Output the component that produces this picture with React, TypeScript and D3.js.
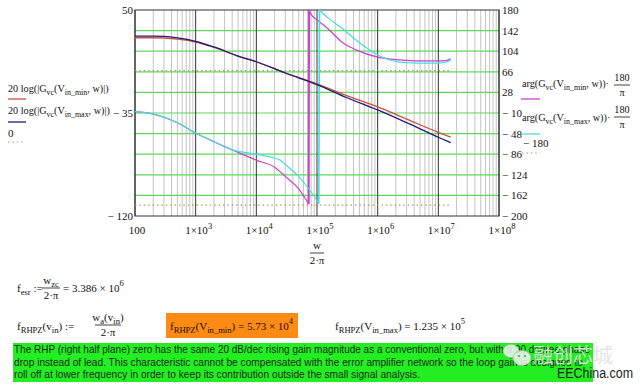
import React from "react";
import * as d3 from "d3";

// x axis decades (Hz) and labels
const decades = [1e2, 1e3, 1e4, 1e5, 1e6, 1e7, 1e8];
const decadeExp = ["", "3", "4", "5", "6", "7", "8"];

// left axis (dB) and right axis (deg)
const leftTicks = [50, -35, -120];
const leftTickLabels = ["50", "− 35", "− 120"];
const rightTicks = [180, 142, 104, 66, 28, -10, -48, -86, -124, -162, -200];
const rightTickLabels = ["180", "142", "104", "66", "28", "− 10", "− 48", "− 86", "− 124", "− 162", "− 200"];

// magnitude 20log|Gvc| in dB
const magFreq = [100, 200, 300, 500, 1e3, 2e3, 5e3, 1e4, 3e4, 1e5, 3e5, 1e6, 3e6, 1e7, 1.6e7];
const magVinMin = [27.1, 27.1, 26.9, 26.0, 23.6, 19.2, 12.0, 7.3, -1.8, -11.0, -20.5, -30.0, -40.0, -51.0, -55.0];
const magVinMax = [28.5, 28.5, 28.2, 27.0, 24.2, 19.5, 12.0, 7.3, -2.0, -11.5, -22.0, -32.5, -43.0, -55.0, -59.5];

// phase arg(Gvc) in degrees, two branches each (wraps at -180 -> 180)
const phMinFreqA = [100, 200, 500, 1e3, 2e3, 4e3, 1e4, 2e4, 3e4, 5e4, 7.3e4];
const phVinMinA = [-7.6, -12, -28, -47, -63, -78, -97, -110, -127, -150, -178];
const phMinFreqB = [7.4e4, 8e4, 1e5, 1.5e5, 2.7e5, 4.5e5, 1e6, 2.3e6, 5e6, 1e7, 1.4e7, 1.6e7];
const phVinMinB = [180, 172, 162, 146, 119, 106, 93, 88, 86, 86, 87, 90];
const phMaxFreqA = [100, 200, 500, 1e3, 2e3, 4e3, 1e4, 1.5e4, 2.5e4, 3e4, 5e4, 7.6e4, 1.07e5];
const phVinMaxA = [-7.6, -12, -28, -47, -63, -78, -86, -90, -97, -105, -127, -152, -177];
const phMaxFreqB = [1.1e5, 1.5e5, 2.4e5, 5.1e5, 1e6, 2.3e6, 5e6, 1e7, 1.35e7, 1.6e7];
const phVinMaxB = [180, 166, 149, 119, 97, 84, 82, 82, 84, 88];

const zeroLevel = 0;
const phaseLimit = -180;

const paragraph = [
  "The RHP (right half plane) zero has the same 20 dB/dec rising gain magnitude as a conventional zero, but with a 90 degree phase",
  "drop instead of lead. This characteristic cannot be compensated with the error amplifier network so the loop gain is designed to",
  "roll off at lower frequency in order to keep its contribution outside the small signal analysis.",
];

const SERIF = "'Liberation Serif', 'Times New Roman', serif";
const SANS = "'Liberation Sans', Arial, sans-serif";

const C_RED = "#d0503c";
const C_NAVY = "#1c1c7c";
const C_MAG = "#c844c8";
const C_CYAN = "#46dce6";
const C_DOT = "#c08a50";
const C_GREEN = "#5cd85c";

type Part = [string, number?]; // [text, baseline offset px]

function Rich({ x, y, parts, size = 11, anchor = "start", fill = "#111" }: any) {
  let cur = 0;
  return (
    <text x={x} y={y} fontSize={size} textAnchor={anchor} fontFamily={SERIF} fill={fill}>
      {parts.map(([t, off = 0]: Part, i: number) => {
        const dy = off - cur;
        cur = off;
        return (
          <tspan key={i} dy={dy} fontSize={off ? size * 0.78 : size}>
            {t}
          </tspan>
        );
      })}
    </text>
  );
}

function Frac({ cx, y, num, den, w, size = 11 }: any) {
  return (
    <g>
      <Rich x={cx} y={y - 4} parts={num} anchor="middle" size={size} />
      <line x1={cx - w / 2} x2={cx + w / 2} y1={y} y2={y} stroke="#111" strokeWidth={0.8} />
      <Rich x={cx} y={y + 11} parts={den} anchor="middle" size={size} />
    </g>
  );
}

const zip = (f: number[], v: number[]) => f.map((fi, i) => [fi, v[i]] as [number, number]);

export default function App() {
  const x = d3.scaleLog().domain([1e2, 1e8]).range([135, 499]);
  const yL = d3.scaleLinear().domain([-120, 50]).range([216, 10]);
  const yR = d3.scaleLinear().domain([-200, 180]).range([216, 10]);

  const minor = decades.slice(0, -1).flatMap((d) => d3.range(2, 10).map((k) => k * d));

  const magLine = d3
    .line<[number, number]>()
    .x((d) => x(d[0]))
    .y((d) => yL(d[1]))
    .curve(d3.curveMonotoneX);
  const phLine = d3
    .line<[number, number]>()
    .x((d) => x(d[0]))
    .y((d) => yR(d[1]))
    .curve(d3.curveMonotoneX);
  const jump = d3
    .line<[number, number]>()
    .x((d) => x(d[0]))
    .y((d) => yR(d[1]));

  const minA = zip(phMinFreqA, phVinMinA);
  const minB = zip(phMinFreqB, phVinMinB);
  const maxA = zip(phMaxFreqA, phVinMaxA);
  const maxB = zip(phMaxFreqB, phVinMaxB);

  const fStart = magFreq[0];
  const fEnd = magFreq[magFreq.length - 1];

  return (
    <svg width={640} height={386} style={{ position: "absolute", left: 0, top: 0, background: "#fff" }}>
      {/* minor vertical grid */}
      {minor.map((f) => (
        <line key={"m" + f} x1={x(f)} x2={x(f)} y1={yR(180)} y2={yR(-200)} stroke="#c4c4c4" strokeWidth={1} />
      ))}
      {/* horizontal green grid */}
      {rightTicks.slice(1, -1).map((t) => (
        <line key={"h" + t} x1={x(1e2)} x2={x(1e8)} y1={yR(t)} y2={yR(t)} stroke={C_GREEN} strokeWidth={1.2} />
      ))}
      {/* decade lines */}
      {decades.map((d) => (
        <line key={"d" + d} x1={x(d)} x2={x(d)} y1={yR(180)} y2={yR(-200)} stroke="#333" strokeWidth={1} />
      ))}
      <rect x={x(1e2)} y={yR(180)} width={x(1e8) - x(1e2)} height={yR(-200) - yR(180)} fill="none" stroke="#333" strokeWidth={1} />

      {/* reference dotted lines */}
      <line x1={x(fStart)} x2={x(fEnd)} y1={yL(zeroLevel)} y2={yL(zeroLevel)} stroke={C_DOT} strokeWidth={1.2} strokeDasharray="1.4,3" />
      <line x1={x(fStart)} x2={x(fEnd)} y1={yR(phaseLimit)} y2={yR(phaseLimit)} stroke={C_DOT} strokeWidth={1.2} strokeDasharray="1.4,3" />

      {/* phase traces */}
      <g fill="none" strokeWidth={1.2}>
        <path d={phLine(minA) || ""} stroke={C_MAG} />
        <path d={jump([minA[minA.length - 1], minB[0]]) || ""} stroke={C_MAG} strokeWidth={2} />
        <path d={phLine(minB) || ""} stroke={C_MAG} />
        <path d={phLine(maxA) || ""} stroke={C_CYAN} />
        <path d={jump([maxA[maxA.length - 1], maxB[0]]) || ""} stroke={C_CYAN} strokeWidth={1.6} />
        <path d={phLine(maxB) || ""} stroke={C_CYAN} />
      </g>
      {/* magnitude traces */}
      <g fill="none" strokeWidth={1.3}>
        <path d={magLine(zip(magFreq, magVinMin)) || ""} stroke={C_RED} />
        <path d={magLine(zip(magFreq, magVinMax)) || ""} stroke={C_NAVY} />
      </g>

      {/* left ticks */}
      {leftTicks.map((t, i) => (
        <text key={"lt" + t} x={133} y={yL(t) + 4} fontSize={11} textAnchor="end" fontFamily={SERIF} fill="#111">
          {leftTickLabels[i]}
        </text>
      ))}
      {/* right ticks */}
      {rightTicks.map((t, i) => (
        <text key={"rt" + t} x={502} y={yR(t) + 4} fontSize={11} fontFamily={SERIF} fill="#111">
          {rightTickLabels[i]}
        </text>
      ))}
      {/* x ticks */}
      {decades.map((d, i) => (
        <Rich
          key={"xt" + d}
          x={x(d) + (i === 0 ? 2 : 3)}
          y={234}
          anchor="middle"
          parts={i === 0 ? [["100"]] : [["1×10"], [decadeExp[i], -5]]}
        />
      ))}
      {/* x label */}
      <Frac cx={x(1e5)} y={253} w={14} num={[["w"]]} den={[["2·π"]]} />

      {/* left legend */}
      <Rich x={8} y={92} size={10.2} parts={[["20 log(|G"], ["vc", 3], ["(V"], ["in_min", 3], [", w)|)"]]} />
      <line x1={8} x2={26} y1={99} y2={99} stroke={C_RED} strokeWidth={1.3} />
      <Rich x={8} y={114} size={10.2} parts={[["20 log(|G"], ["vc", 3], ["(V"], ["in_max", 3], [", w)|)"]]} />
      <line x1={8} x2={26} y1={122} y2={122} stroke={C_NAVY} strokeWidth={1.3} />
      <text x={8} y={137} fontSize={11} fontFamily={SERIF} fill="#111">0</text>
      <line x1={8} x2={24} y1={142} y2={142} stroke={C_DOT} strokeWidth={1.2} strokeDasharray="1.4,3" />

      {/* right legend */}
      <Rich x={522} y={87} size={10.2} parts={[["arg(G"], ["vc", 3], ["(V"], ["in_min", 3], [", w))·"]]} />
      <Frac cx={622} y={85} w={16} size={10.2} num={[["180"]]} den={[["π"]]} />
      <line x1={521} x2={540} y1={99} y2={99} stroke={C_MAG} strokeWidth={1.3} />
      <Rich x={522} y={121} size={10.2} parts={[["arg(G"], ["vc", 3], ["(V"], ["in_max", 3], [", w))·"]]} />
      <Frac cx={622} y={117} w={16} size={10.2} num={[["180"]]} den={[["π"]]} />
      <line x1={521} x2={540} y1={134} y2={134} stroke={C_CYAN} strokeWidth={1.3} />
      <text x={523} y={147} fontSize={11} fontFamily={SERIF} fill="#111">− 180</text>
      <line x1={522} x2={540} y1={153} y2={153} stroke={C_DOT} strokeWidth={1.2} strokeDasharray="1.4,3" />

      {/* equations */}
      <Rich x={17} y={292} parts={[["f"], ["esr", 3], [" :="]]} />
      <Frac cx={51} y={288} w={18} num={[["w"], ["zc", 3]]} den={[["2·π"]]} />
      <Rich x={63} y={292} parts={[["= 3.386 × 10"], ["6", -6]]} />

      <Rich x={17} y={330} parts={[["f"], ["RHPZ", 3], ["(v"], ["in", 3], [") :="]]} />
      <Frac cx={108} y={325} w={26} num={[["w"], ["a", 3], ["(v"], ["in", 3], [")"]]} den={[["2·π"]]} />

      <rect x={166} y={313} width={132} height={25} fill="#ff8a14" />
      <Rich x={170} y={330} parts={[["f"], ["RHPZ", 3], ["(V"], ["in_min", 3], [") = 5.73 × 10"], ["4", -6]]} />

      <Rich x={335} y={330} parts={[["f"], ["RHPZ", 3], ["(V"], ["in_max", 3], [") = 1.235 × 10"], ["5", -6]]} />

      {/* highlighted note */}
      <rect x={13} y={343} width={580} height={39} fill="#22ee22" />
      {paragraph.map((line, i) => (
        <text
          key={"p" + i}
          x={14}
          y={353 + i * 12.5}
          fontSize={10.5}
          fontFamily={SANS}
          fill="#1a2a1a"
          textLength={[576, 569, 406][i]}
          lengthAdjust="spacingAndGlyphs"
        >
          {line}
        </text>
      ))}

      {/* watermark */}
      <g opacity={0.85}>
        <ellipse cx={511} cy={351} rx={8} ry={6.5} fill="#f4f4f4" stroke="#bbb" strokeWidth={0.8} />
        <ellipse cx={522} cy={358} rx={9} ry={7.5} fill="#f4f4f4" stroke="#bbb" strokeWidth={0.8} />
        <circle cx={519} cy={356} r={1.2} fill="#999" />
        <circle cx={525} cy={356} r={1.2} fill="#999" />
      </g>
      <text x={533} y={363} fontSize={20} fontFamily="'Noto Sans CJK SC', sans-serif" fill="#e4e4e4" opacity={0.9}>
        融创芯城
      </text>
      <text x={557} y={378} fontSize={14} fontFamily={SANS} fill="#222" textLength={76} lengthAdjust="spacingAndGlyphs">
        EEChina.com
      </text>
    </svg>
  );
}
